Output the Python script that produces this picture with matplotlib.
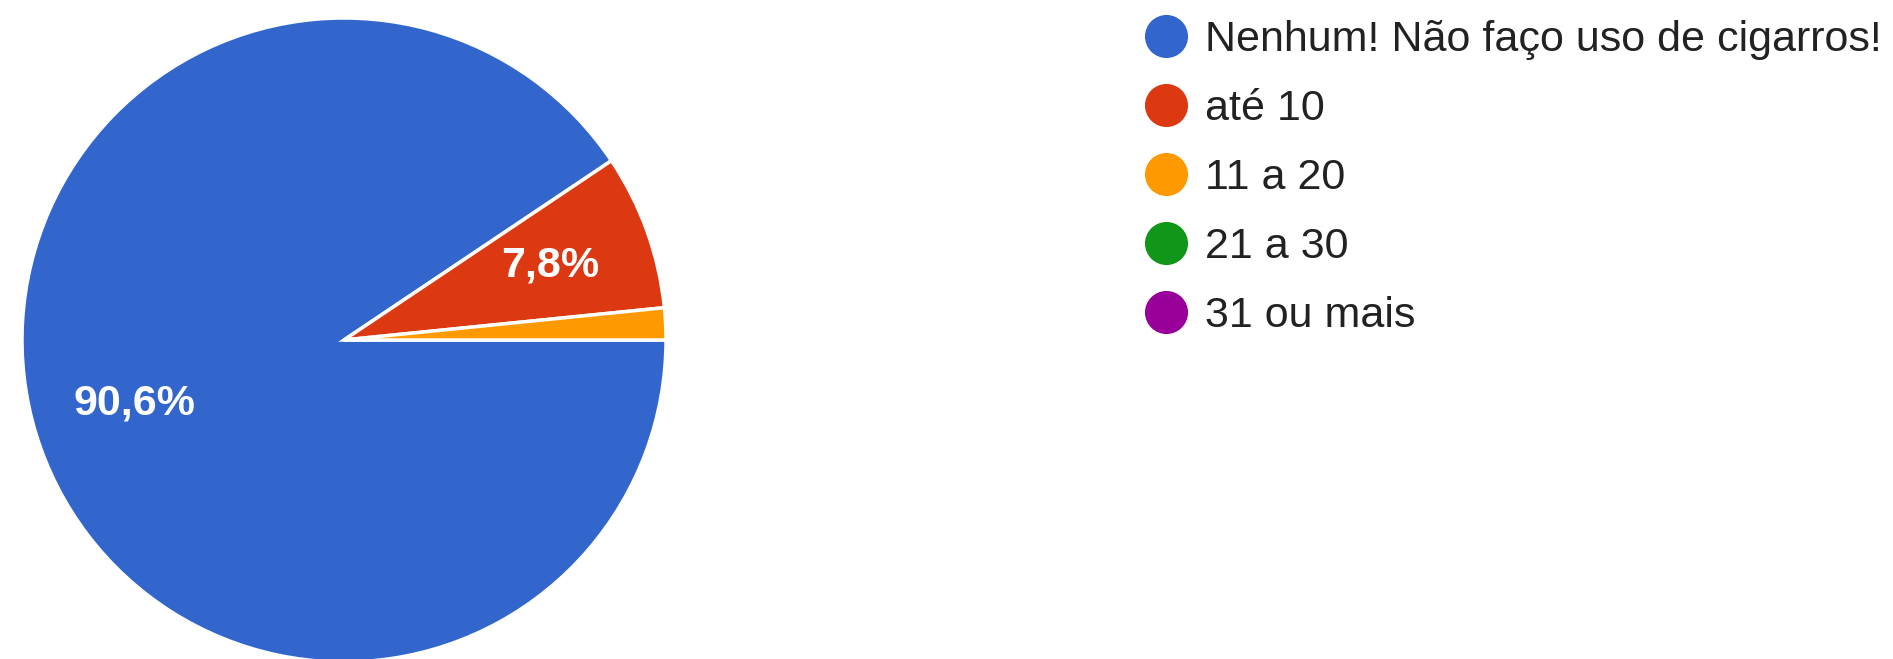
import matplotlib
matplotlib.use("Agg")
import matplotlib.pyplot as plt

# Answer categories and their shares (%)
categories = ["Nenhum! Não faço uso de cigarros!", "até 10", "11 a 20", "21 a 30", "31 ou mais"]
shares = [90.6, 7.8, 1.6, 0.0, 0.0]
pct_labels = ["90,6%", "7,8%", "", "", ""]
colors = ["#3366CC", "#DC3912", "#FF9900", "#109618", "#990099"]

family = "Liberation Sans"

W, H = 1893, 659
fig = plt.figure(figsize=(W / 100, H / 100), dpi=100)
fig.patch.set_facecolor("white")

# Pie: centre (344, 340) px, radius 322 px
cx, cy, r = 344, 340, 322
ax = fig.add_axes([(cx - r) / W, (H - cy - r) / H, 2 * r / W, 2 * r / H])
idx = [i for i, v in enumerate(shares) if v > 0]
wedges, texts = ax.pie(
    [shares[i] for i in idx],
    colors=[colors[i] for i in idx],
    labels=[pct_labels[i] for i in idx],
    labeldistance=0.68,
    startangle=0,
    counterclock=False,
    radius=1.0,
    wedgeprops=dict(edgecolor="white", linewidth=2.5),
    textprops=dict(color="white", fontsize=31, family=family,
                   fontweight="bold", ha="center", va="center"),
)
for t in texts:
    t.set_horizontalalignment("center")
ax.set_xlim(-1, 1)
ax.set_ylim(-1, 1)
ax.set_aspect("equal")
ax.axis("off")

# Legend drawn in pixel coordinates
lg = fig.add_axes([0, 0, 1, 1])
lg.set_xlim(0, W)
lg.set_ylim(H, 0)
lg.axis("off")
for i, (name, col) in enumerate(zip(categories, colors)):
    y = 36 + 69 * i
    lg.plot(1166, y, "o", ms=30, color=col, mec=col)
    lg.text(1205, y + 15, name, fontsize=31, family=family, color="#222222",
            ha="left", va="baseline")

fig.savefig("out.png", dpi=100, facecolor="white")
